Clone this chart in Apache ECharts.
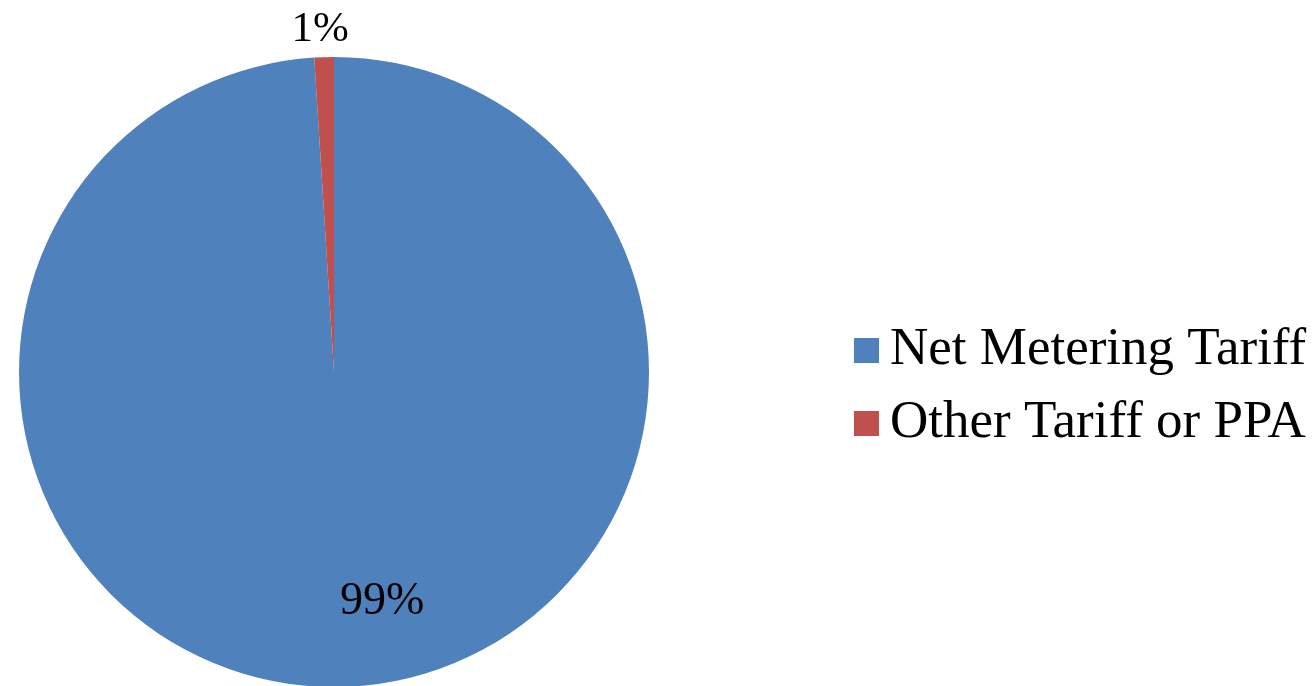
<!DOCTYPE html>
<html><head><meta charset="utf-8">
<script src="https://cdn.jsdelivr.net/npm/echarts@6/dist/echarts.min.js"></script>
<style>html,body{margin:0;padding:0;background:#fff}#c{width:1314px;height:686px}</style>
</head><body><div id="c"></div>
<script>
const categories = ["Net Metering Tariff", "Other Tariff or PPA"];
const values = [99, 1];
const colors = ["#4F81BD", "#C0504D"];

const chart = echarts.init(document.getElementById('c'), null, {renderer: 'canvas'});
const font = "'Liberation Serif', 'Times New Roman', serif";
chart.setOption({
  animation: false,
  legend: {
    orient: 'vertical',
    left: 849,
    top: 319,
    itemWidth: 25,
    itemHeight: 25,
    itemGap: 20,
    icon: 'rect',
    data: categories,
    textStyle: {fontFamily: font, fontSize: 53, lineHeight: 51, color: '#000', padding: [0,0,0,6]}
  },
  series: [{
    type: 'pie',
    center: [334, 372],
    radius: 315,
    startAngle: 90,
    clockwise: true,
    silent: true,
    itemStyle: {borderColor: '#fff', borderWidth: 0},
    label: {fontFamily: font, fontSize: 40, color: '#000', formatter: '{d}%'},
    labelLine: {show: false},
    labelLayout: function (p) {
      if (p.dataIndex === 0) return {dx: 43, dy: 70};
      return {dx: 25, dy: -19};
    },
    data: categories.map((n, i) => ({
      name: n, value: values[i], itemStyle: {color: colors[i]},
      label: i === 0 ? {position: 'inside', fontSize: 46} : {position: 'outside', fontSize: 43, distanceToLabelLine: 0},
      labelLine: i === 0 ? {show: false} : {show: false, length: 8, length2: 0}
    }))
  }]
});
</script></body></html>
